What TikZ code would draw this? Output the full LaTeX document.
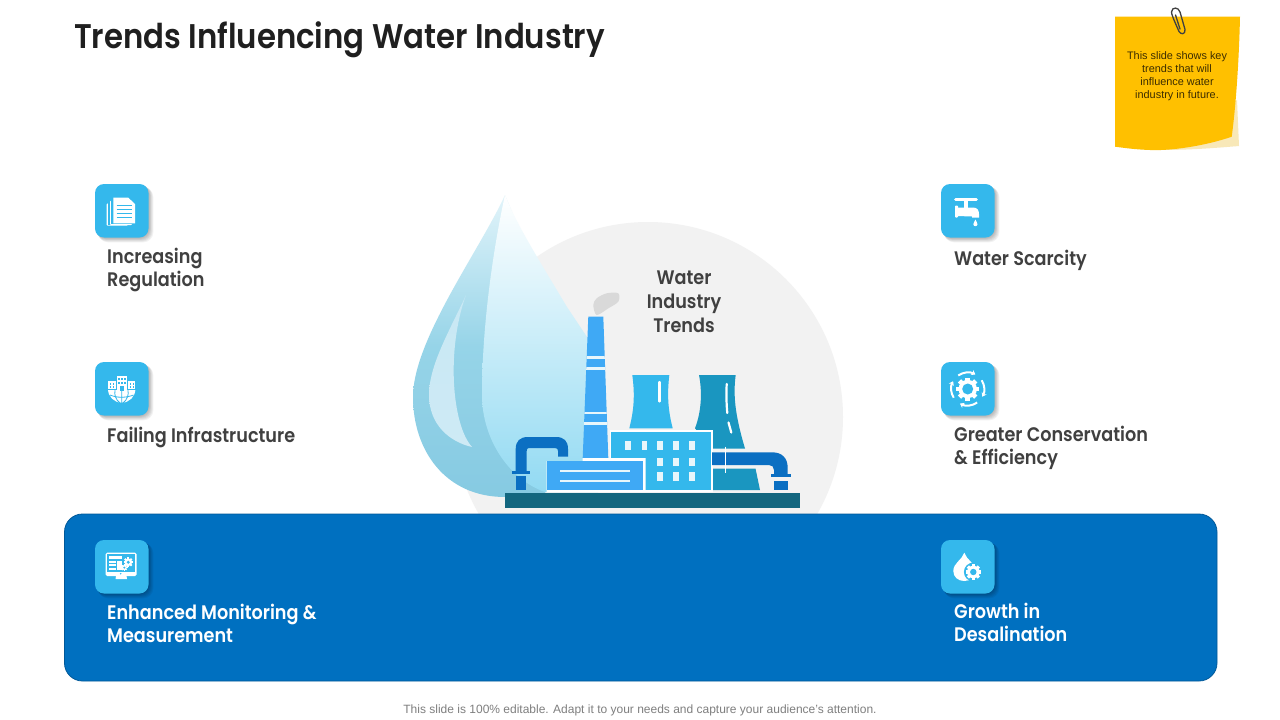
\documentclass[tikz,border=0pt]{standalone}
\usepackage{fontspec}
\usetikzlibrary{arrows.meta}
\setmainfont{Liberation Sans}
\newfontfamily\headfont[FakeStretch=0.9]{Poppins SemiBold}
\definecolor{tilec}{HTML}{34B8EC}
\definecolor{panelc}{HTML}{0070C0}
\definecolor{inkc}{HTML}{404040}
\definecolor{pipec}{HTML}{0B6FC2}
\definecolor{stackc}{HTML}{3FA9F5}
\definecolor{towerc}{HTML}{1A96C0}
\definecolor{basec}{HTML}{13667F}
\tikzset{
  x=1pt,y=-1pt,
  heading/.style={font=\headfont\fontsize{19.6}{23}\selectfont,align=left,anchor=west,inner sep=0,text=inkc},
  headwhite/.style={heading,text=white},
  tilebox/.style={fill=tilec,rounded corners=9},
}
\newcommand{\tile}[2]{%
  \foreach \k in {6,5,4,3,2,1}{
    \fill[black,opacity=0.05,rounded corners=10] (#1+\k*0.5,#2+\k*0.5) rectangle (#1+53.5+\k*0.8,#2+53.5+\k*0.8);
  }
  \fill[tilebox] (#1,#2) rectangle (#1+53.5,#2+53.5);
}
\newcommand{\gearmark}[4]{% x y outer-radius hole-radius
  \foreach \a in {0,45,...,315}{
    \fill[white,rotate around={\a:(#1,#2)}] (#1-#3*0.2,#2-#3) rectangle (#1+#3*0.2,#2);
  }
  \fill[white] (#1,#2) circle[radius=#3*0.8];
  \fill[tilec] (#1,#2) circle[radius=#4];
}
\begin{document}
\begin{tikzpicture}
\useasboundingbox (0,0) rectangle (1280,720);
\fill[white] (0,0) rectangle (1280,720);

% title
\node[font=\headfont\fontsize{34.2}{38}\selectfont,text=black!88,anchor=west,inner sep=0] (title) at (74,40) {Trends Influencing Water Industry};

% sticky note
\fill[fill={rgb,255:red,248;green,232;blue,184}] (1237,100) -- (1239,146) .. controls (1215,148) and (1190,150) .. (1160,150) -- (1200,130) -- cycle;
\fill[fill={rgb,255:red,255;green,192;blue,0}] (1115,16.7) -- (1240,16.7) .. controls (1239,60) and (1236,105) .. (1231.7,136.7) .. controls (1205,146) and (1170,151) .. (1150,150) .. controls (1135,149.5) and (1125,148) .. (1115,146.7) -- cycle;
\draw[line width=1.3,draw={rgb,255:red,64;green,64;blue,64},line cap=round,line join=round]
  (1175.5,15) -- (1180,29) (1179,31.5) .. controls (1180.5,34.5) and (1185.5,35) .. (1185,29.5) -- (1180,12) .. controls (1178.5,7) and (1172,6.5) .. (1171.5,12) .. controls (1171.5,14) and (1173,18) .. (1179,31.5);
\node[font=\fontsize{10.9}{12.9}\selectfont,align=center,inner sep=0,text={rgb,255:red,60;green,45;blue,0}] (note) at (1177,76.5) {This slide shows key\\trends that will\\influence water\\industry in future.};

% circle behind factory
\fill[fill={rgb,255:red,242;green,242;blue,242}] (648,417) circle[radius=195];

% big drop
\shade[top color={rgb,255:red,226;green,244;blue,250},bottom color={rgb,255:red,134;green,202;blue,226},middle color={rgb,255:red,150;green,212;blue,232}]
  (505,195) .. controls (480,250) and (413,340) .. (413,397) .. controls (413,450) and (445,497) .. (505,497) -- (545,493) -- (590,400) -- cycle;
\shade[top color={rgb,255:red,200;green,232;blue,244},bottom color={rgb,255:red,206;green,234;blue,245}]
  (466,295) .. controls (450,330) and (429,365) .. (429,395) .. controls (429,425) and (450,442) .. (472,447) .. controls (452,425) and (446,350) .. (466,295) -- cycle;
\shade[top color=white,middle color={rgb,255:red,168;green,225;blue,245},bottom color={rgb,255:red,146;green,218;blue,242}]
  (505,195) .. controls (515,220) and (530,245) .. (543,267) -- (567,307) -- (587,337) .. controls (592,350) and (598,360) .. (598,375) -- (598,492) -- (545,492) .. controls (510,480) and (482,440) .. (482,395) .. controls (482,320) and (495,240) .. (505,195) -- cycle;

% factory: smoke
\fill[fill={rgb,255:red,217;green,217;blue,217}] plot[smooth cycle] coordinates {(593.3,305) (596.7,298.3) (606.7,293.3) (618.3,293.3) (618.3,301.7) (608.3,308.3) (596.7,315)};
% cooling towers
\fill[fill=towerc] (699,375) -- (735.7,375) .. controls (733,395) and (735,415) .. (745,448.5) -- (712,448.5) -- (695,428.3) .. controls (702,410) and (702,390) .. (699,375) -- cycle;
\fill[fill=towerc] (712,468.5) -- (755.5,468.5) -- (760,490) -- (712,490) -- cycle;
\draw[white,line width=2.2,line cap=round] (726.7,384) .. controls (726.2,395) and (726.5,405) .. (727.3,413);
\draw[white,line width=2.2,line cap=round] (728.5,422.5) -- (731.3,432.5);
\fill[fill=tilec] (632.3,375) -- (669.3,375) .. controls (667,395) and (668,410) .. (672.7,428.3) -- (629.3,428.3) .. controls (634,410) and (635,395) .. (632.3,375) -- cycle;
\draw[white,line width=2.2,line cap=round] (659.5,382) -- (659.5,401.5);
% chimney
\fill[fill=stackc] (588.3,316.7) -- (603.3,316.7) -- (608.3,458) -- (582.7,458) -- cycle;
\begin{scope}
  \clip (588.3,316.7) -- (603.3,316.7) -- (608.3,458) -- (582.7,458) -- cycle;
  \foreach \ya/\yb in {356/359.3,367/370.3,411.5/414,421.5/424.5}{
    \fill[fill={rgb,255:red,232;green,246;blue,251}] (580,\ya) rectangle (612,\yb);
  }
\end{scope}
% building
\fill[white] (609.5,430) rectangle (713,492);
\fill[fill=tilec] (611.3,432) rectangle (711,490);
\foreach \wy/\wxs in {441/{625,641.7,657.3,673.3,689.3},457.7/{657.3,673.3,689.3},472.3/{657.3,673.3,689.3}}{
  \foreach \wx in \wxs {
    \fill[fill={rgb,255:red,232;green,246;blue,251}] (\wx,\wy) rectangle (\wx+5.7,\wy+8.5);
  }
}
% low box
\fill[white] (582.7,458) -- (645.5,458) -- (645.5,492) -- (546.7,492) -- (546.7,461) -- (582.7,461) -- cycle;
\fill[fill=stackc] (546.7,461) rectangle (643.3,490);
\fill[fill={rgb,255:red,232;green,246;blue,251}] (560,469.5) rectangle (630,471.5);
\fill[fill={rgb,255:red,232;green,246;blue,251}] (560,479.5) rectangle (630,481.5);
% left pipe
\fill[fill=pipec] (515.7,471) -- (515.7,449) .. controls (515.7,441) and (520,437) .. (528,437) -- (556,437) .. controls (564,437) and (568,441) .. (568,449) -- (568,456.7) -- (558,456.7) -- (558,451) .. controls (558,449) and (557,448) .. (555,448) -- (529,448) .. controls (527.5,448) and (526.7,449) .. (526.7,451) -- (526.7,471) -- cycle;
\fill[fill=pipec] (512.3,471) rectangle (530,474);
\fill[fill=pipec] (516,475.5) rectangle (526,490);
% right pipe
\fill[fill=pipec] (712,452.3) -- (772,452.3) .. controls (782,452.3) and (787.7,458) .. (787.7,468) -- (787.7,474.3) -- (774,474.3) -- (774,470) .. controls (774,467) and (772,465) .. (769,465) -- (712,465) -- cycle;
\fill[fill=pipec] (770.7,474.3) rectangle (791,477.3);
\fill[fill=pipec] (774,481) rectangle (787.7,490);
\draw[white,line width=1.5] (725.7,446.7) -- (725.7,473.3);
% base
\fill[fill=basec] (505,493.3) rectangle (800,508.3);

% panel
\fill[fill=panelc,draw={rgb,255:red,0;green,88;blue,152},line width=0.8,rounded corners=18] (64.5,514) rectangle (1217,681);

% tiles
\tile{95}{184}\tile{95}{362}\tile{95}{540}\tile{941}{184}\tile{941}{362}\tile{941}{540}

% icon: documents
\begin{scope}[shift={(95,184)}]
  \fill[white,rounded corners=1] (11.7,19.3) rectangle (33,41.7);
  \fill[tilec] (13,19) rectangle (34,40.5);
  \fill[white,rounded corners=1] (15,16.5) rectangle (37,41);
  \fill[tilec] (16.3,16) rectangle (38,39.8);
  \fill[white] (18.3,13.7) -- (33.3,13.7) -- (40,20) -- (40,39.3) -- (18.3,39.3) -- cycle;
  \foreach \yy in {21.5,25.5,29.5,33.5}{\draw[tilec,line width=0.8] (21.7,\yy) -- (37,\yy);}
\end{scope}
% icon: globe with buildings
\begin{scope}[shift={(95,362)}]
  \fill[white] (13,27) arc[start angle=180,end angle=0,radius=13.7] -- cycle;
  \draw[tilec,line width=0.8] (26.7,27) -- (26.7,41) (15,33) .. controls (22,36) and (31,36) .. (38.5,33) (20,28) .. controls (19,33) and (21,38) .. (25,41) (33,28) .. controls (34,33) and (32,38) .. (28,41);
  \fill[tilec] (12,26.2) rectangle (41,28);
  \fill[white] (13.3,19.3) rectangle (20.7,27);
  \fill[white] (33,19.3) rectangle (40,27);
  \fill[white] (21.7,13.7) rectangle (32.3,29);
  \foreach \wx in {15,18,34.8,37.8}{\foreach \wy in {21,24}{\fill[tilec] (\wx,\wy) rectangle (\wx+1.4,\wy+1.5);}}
  \foreach \wx in {23.3,26.3,29}{\fill[tilec] (\wx,16) rectangle (\wx+1.5,18);\fill[tilec] (\wx,20) rectangle (\wx+1.5,22);}
  \fill[tilec] (25,24) rectangle (29,29);
\end{scope}
% icon: monitor
\begin{scope}[shift={(95,540)}]
  \fill[white,rounded corners=1.5] (10.7,12.7) rectangle (41.7,36);
  \fill[tilec] (12.3,14.3) rectangle (40,31.5);
  \fill[white] (21,36) -- (31.5,36) -- (32,39) -- (20.5,39) -- cycle;
  \fill[tilec] (25.7,33.7) circle[radius=0.8];
  \fill[white] (14,16) rectangle (27,19);
  \fill[white] (14,20.5) rectangle (21,22.8);
  \fill[white] (14,24) rectangle (21,26.3);
  \fill[white] (14,27.5) rectangle (21,29.8);
  \fill[white] (22.2,20.5) rectangle (26.5,29.8);
  \gearmark{33.3}{22.2}{4.8}{1.6}
  \gearmark{29.3}{27.6}{3.2}{1.1}
\end{scope}
% icon: tap
\begin{scope}[shift={(941,184)}]
  \draw[white,line width=2.6,line cap=round] (14.5,15.2) -- (35.5,15.2);
  \fill[white] (23,15) rectangle (27,24);
  \fill[white,rounded corners=0.8] (14,21.5) rectangle (17,33.5);
  \fill[white] (16,23.5) -- (32,23.5) .. controls (36,23.5) and (38,26) .. (38,30) -- (38,33.5) -- (31,33.5) -- (31,32.5) -- (16,32) -- cycle;
  \fill[white] (34.4,35.5) .. controls (33.4,38) and (32.3,39) .. (32.3,40.3) .. controls (32.3,42.8) and (36.5,42.8) .. (36.5,40.3) .. controls (36.5,39) and (35.4,38) .. (34.4,35.5) -- cycle;
\end{scope}
% icon: gear and arrows
\begin{scope}[shift={(941,362)}]
  \gearmark{26.7}{27}{11.5}{5.5}
  \foreach \sa/\ea in {-125/-62,-32/28,55/118,148/208}{
    \draw[white,line width=2,-{Stealth[length=4,width=5.5]}] (26.7,27) ++(\sa:16.5) arc[start angle=\sa,end angle=\ea,radius=16.5];
  }
\end{scope}
% icon: drop and gear
\begin{scope}[shift={(941,540)}]
  \fill[white] (23.3,12.7) .. controls (21,20) and (12.3,23) .. (12.3,31) .. controls (12.3,37) and (17,41) .. (23.3,41) .. controls (29.6,41) and (34.3,37) .. (34.3,31) .. controls (34.3,23) and (25.6,20) .. (23.3,12.7) -- cycle;
  \fill[tilec] (32.3,32) circle[radius=9.4];
  \gearmark{32.3}{32}{7.8}{3.2}
\end{scope}

% labels
\node[heading] (l1) at (107,270) {Increasing\\Regulation};
\node[heading] (l2) at (107,437.5) {Failing Infrastructure};
\node[headwhite] (l3) at (107,623) {Enhanced Monitoring \&\\Measurement};
\node[heading] (r1) at (954,260.5) {Water Scarcity};
\node[heading] (r2) at (954,447.5) {Greater Conservation\\\& Efficiency};
\node[headwhite] (r3) at (954,622.5) {Growth in\\Desalination};
\node[heading,anchor=center,align=center] (cen) at (684,302) {Water\\[1pt]Industry\\[1pt]Trends};

% footer
\node[font=\fontsize{12}{14}\selectfont,text={rgb,255:red,127;green,127;blue,127},inner sep=0] (foot) at (640,710) {This slide is 100\% editable. Adapt it to your needs and capture your audience's attention.};
\end{tikzpicture}
\end{document}
